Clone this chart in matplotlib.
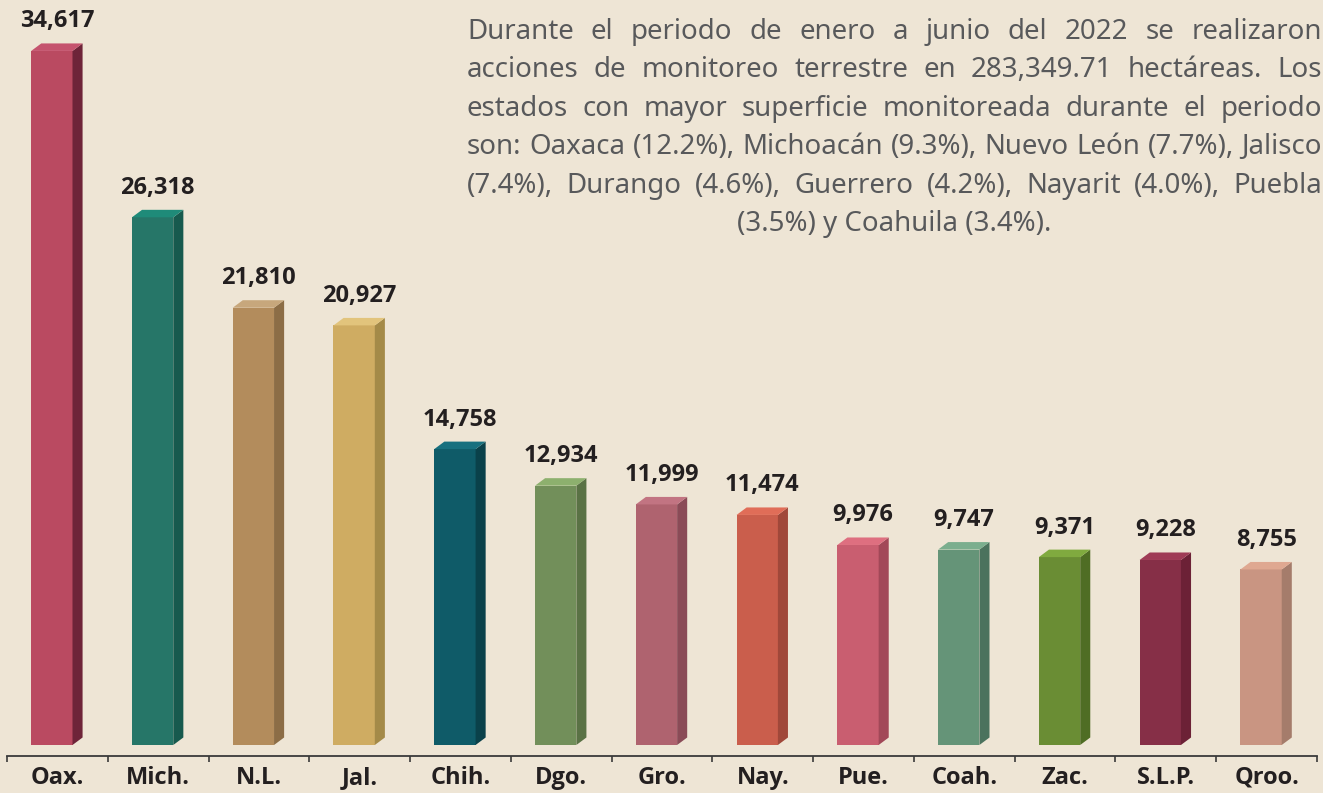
import numpy as np
import matplotlib
matplotlib.use("Agg")
import matplotlib.pyplot as plt
from matplotlib.patches import Polygon, Rectangle

plt.rcParams['font.family'] = ['Noto Sans', 'DejaVu Sans']
bold_family = ['Open Sans', 'DejaVu Sans']

# data
states = ["Oax.", "Mich.", "N.L.", "Jal.", "Chih.", "Dgo.", "Gro.", "Nay.",
          "Pue.", "Coah.", "Zac.", "S.L.P.", "Qroo."]
hectares = [34617, 26318, 21810, 20927, 14758, 12934, 11999, 11474,
            9976, 9747, 9371, 9228, 8755]
front_colors = ["#BA4A61", "#267668", "#B38C5C", "#CFAC62", "#0F5B68", "#728F5A", "#AF636F",
                "#CA5E4C", "#C95E70", "#659478", "#6A8D34", "#862F47", "#C99582"]
side_colors = ["#6E2439", "#175A4E", "#8C6D46", "#A48A48", "#0A414A", "#5A7245", "#8A4B57",
               "#A0483A", "#A24858", "#4B725D", "#4F6D24", "#6C2136", "#A57C6B"]
top_colors = ["#C5536E", "#1F8B79", "#C7A77C", "#E2C47C", "#17707F", "#8DB06E", "#C27482",
              "#E06D58", "#DE6F80", "#7BAE8E", "#80AA3F", "#9F3B56", "#DFA891"]

text_lines = [
    "Durante el periodo de enero a junio del 2022 se realizaron",
    "acciones de monitoreo terrestre en 283,349.71 hectáreas. Los",
    "estados con mayor superficie monitoreada durante el periodo",
    "son: Oaxaca (12.2%), Michoacán (9.3%), Nuevo León (7.7%), Jalisco",
    "(7.4%), Durango (4.6%), Guerrero (4.2%), Nayarit (4.0%), Puebla",
    "(3.5%) y Coahuila (3.4%).",
]

W, H = 1323, 793
bg = "#EEE5D5"
fig = plt.figure(figsize=(W / 100, H / 100), dpi=100, facecolor=bg)

# axes: bottom at the axis line (y=756px), x from 7 to 1317 px
ax_h_px = 756
ax = fig.add_axes([7 / W, 1 - ax_h_px / H, 1310 / W, ax_h_px / H])
ax.set_facecolor(bg)
ppu = 0.02005  # pixels per hectare
ymin = -11 / ppu
ymax = (ax_h_px - 11) / ppu
ax.set_xlim(-0.5, len(states) - 0.5)
ax.set_ylim(ymin, ymax)

dx = 0.1
dy = 7.5 / ppu
bw = 0.41
for i, v in enumerate(hectares):
    x0 = i - 0.26
    x1 = x0 + bw
    ax.add_patch(Rectangle((x0, 0), bw, v, facecolor=front_colors[i], edgecolor="none"))
    ax.add_patch(Polygon([(x1, 0), (x1 + dx, dy), (x1 + dx, v + dy), (x1, v)],
                         closed=True, facecolor=side_colors[i], edgecolor="none"))
    ax.add_patch(Polygon([(x0, v), (x1, v), (x1 + dx, v + dy), (x0 + dx, v + dy)],
                         closed=True, facecolor=top_colors[i], edgecolor="none"))
    ax.annotate(f"{v:,}", xy=(x0 + (bw + dx) / 2, v + dy), xytext=(0, 16 / 1.389),
                textcoords="offset points", ha="center", va="baseline",
                fontsize=17, fontweight="bold", family=bold_family, color="#231F20")

for s in ["top", "right", "left"]:
    ax.spines[s].set_visible(False)
ax.spines["bottom"].set_color("#3A3A3A")
ax.spines["bottom"].set_linewidth(1.3)
ax.set_yticks([])
ax.set_xticks(range(len(states)))
ax.set_xticklabels(states, fontsize=17, fontweight="bold", family=bold_family, color="#231F20")
ax.tick_params(axis="x", which="major", length=0, pad=7)
ax.set_xticks(np.arange(-0.5, len(states), 1), minor=True)
ax.tick_params(axis="x", which="minor", length=4, width=1.2, color="#3A3A3A", direction="out")

# justified paragraph
r = fig.canvas.get_renderer()
txt_color = "#58595B"


def width_px(s, fs):
    t = fig.text(0, 0, s, fontsize=fs)
    w = t.get_window_extent(r).width
    t.remove()
    return w


left, right = 467, 1322
box_w = right - left
fs = 19
nat = width_px(text_lines[3], fs)
fs = fs * (box_w - 4) / nat

baselines = [39, 77, 116, 154, 193, 231]
for k, line in enumerate(text_lines):
    yb = 1 - baselines[k] / H
    if k == len(text_lines) - 1:
        fig.text((left + right) / 2 / W, yb, line, fontsize=fs, color=txt_color,
                 ha="center", va="baseline")
        continue
    words = line.split(" ")
    ws = [width_px(w, fs) for w in words]
    gap = (box_w - sum(ws)) / (len(words) - 1)
    x = left
    for w, wd in zip(words, ws):
        fig.text(x / W, yb, w, fontsize=fs, color=txt_color, ha="left", va="baseline")
        x += wd + gap

fig.savefig("out.png", dpi=100, facecolor=bg)
